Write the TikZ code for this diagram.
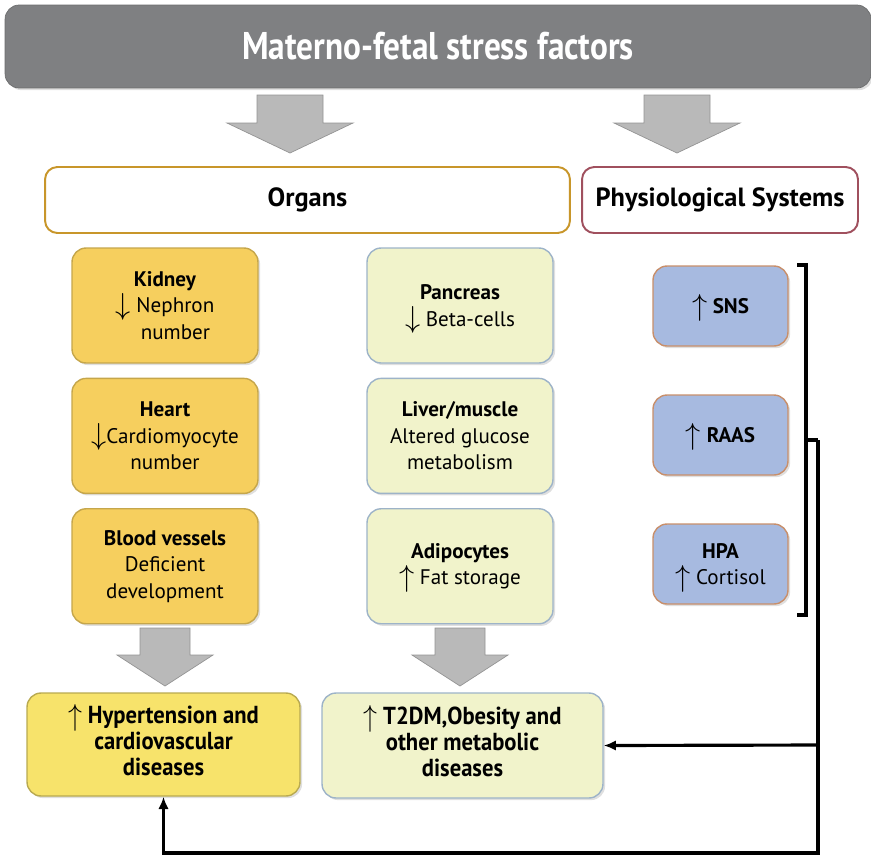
\documentclass[tikz,border=0pt]{standalone}
\usepackage{fontspec}
\setmainfont{PT Sans}
\usetikzlibrary{positioning, arrows.meta, shadows}
\definecolor{titleGray}{HTML}{7F8082}
\definecolor{arrowGray}{HTML}{B9B9B9}
\definecolor{organGold}{HTML}{C8962A}
\definecolor{physioRed}{HTML}{A0505E}
\definecolor{organOrange}{HTML}{F6CF5E}
\definecolor{metaPale}{HTML}{F1F3CB}
\definecolor{metaEdge}{HTML}{9DB3C8}
\definecolor{sysBlue}{HTML}{A7BAE0}
\definecolor{sysEdge}{HTML}{C88F6B}
\definecolor{cvdYellow}{HTML}{F7E36B}
\newcommand{\up}{\smash{\raisebox{-1pt}{\fontsize{17}{17}\selectfont$\uparrow$}}}
\newcommand{\down}{\smash{\raisebox{-1pt}{\fontsize{17}{17}\selectfont$\downarrow$}}}
\tikzstyle{softshadow} =[drop shadow={opacity=0.25, shadow xshift=1.2pt, shadow yshift=-1.2pt}]
\tikzstyle{organbox} =[draw=organOrange!80!black, fill=organOrange, rounded corners=8pt, line width=0.8pt, align=center, minimum width=3.72cm, minimum height=2.3cm, softshadow, font=\fontsize{12}{15}\selectfont]
\tikzstyle{metabox} =[draw=metaEdge, fill=metaPale, rounded corners=8pt, line width=0.8pt, align=center, minimum width=3.72cm, minimum height=2.3cm, softshadow, font=\fontsize{12}{15}\selectfont]
\tikzstyle{sysbox} =[draw=sysEdge, fill=sysBlue, rounded corners=8pt, line width=0.8pt, align=center, minimum width=2.7cm, minimum height=1.6cm, softshadow, font=\fontsize{12}{15}\selectfont]
\tikzstyle{headbox} =[fill=white, rounded corners=7pt, line width=1.1pt, minimum height=1.32cm, font=\fontsize{15}{17}\selectfont\bfseries]
\tikzstyle{outcome} =[rounded corners=8pt, line width=0.8pt, align=center, softshadow, font=\fontsize{14}{14.6}\selectfont\bfseries]

\begin{document}
\begin{tikzpicture}[x=0.02cm, y=-0.02cm]
\useasboundingbox (0,0) rectangle (871,856);

\node (stress) [fill=titleGray, draw=titleGray!85!black, rounded corners=8pt, minimum width=17.32cm, minimum height=1.66cm, text=white, softshadow] at (438,46.5)
	{\scalebox{0.86}[1]{\fontsize{22}{24}\selectfont\bfseries Materno-fetal stress factors}};

% big gray arrows under the title, small ones under the two columns
\foreach \cx/\top/\sw/\hw/\neck/\tip in {290/95/33/63/123/153, 677/95/33/63/123/153, 165/628/25/48/655/686, 460/628/25/48/655/686}
	\fill[arrowGray, draw=arrowGray!80!black, line width=0.4pt]
		(\cx-\sw,\top) -- (\cx+\sw,\top) -- (\cx+\sw,\neck) -- (\cx+\hw,\neck) -- (\cx,\tip)
		-- (\cx-\hw,\neck) -- (\cx-\sw,\neck) -- cycle;

\node (organs) [headbox, draw=organGold, minimum width=10.5cm] at (307.5,200) {Organs};
\node (physio) [headbox, draw=physioRed, minimum width=5.52cm] at (720,200) {Physiological Systems};

\node (kidney) [organbox] at (165,305.5) {\textbf{Kidney}\\\down\ Nephron\\\phantom{\down\ }number};
\node (heart) [organbox, below=0.28cm of kidney] {\textbf{Heart}\\\down Cardiomyocyte\\number};
\node (vessels) [organbox, below=0.28cm of heart] {\textbf{Blood vessels}\\Deficient\\development};

\node (pancreas) [metabox] at (460,305.5) {\textbf{Pancreas}\\\down\ Beta-cells};
\node (liver) [metabox, below=0.28cm of pancreas] {\textbf{Liver/muscle}\\Altered glucose\\metabolism};
\node (adipo) [metabox, below=0.28cm of liver] {\textbf{Adipocytes}\\\up\ Fat storage};

\node (sns) [sysbox] at (720.5,306) {\up\ \textbf{SNS}};
\node (raas) [sysbox] at (720.5,435) {\up\ \textbf{RAAS}};
\node (hpa) [sysbox] at (720.5,564) {\textbf{HPA}\\\up\ Cortisol};

\node (hyper) [outcome, draw=cvdYellow!75!black, fill=cvdYellow, minimum width=5.46cm, minimum height=2.06cm] at (163.5,744.5)
	{\scalebox{0.92}[1]{\begin{tabular}{@{}c@{}}\up\ Hypertension and\\cardiovascular\\diseases\end{tabular}}};
\node (t2dm) [outcome, draw=metaEdge, fill=metaPale, minimum width=5.62cm, minimum height=2.1cm] at (462.5,745.5)
	{\scalebox{0.92}[1]{\begin{tabular}{@{}c@{}}\up\ T2DM,Obesity and\\other metabolic\\diseases\end{tabular}}};

%bracket round the systems
\coordinate (brTop) at (797,265);
\coordinate (brBot) at (797,615);
\coordinate (hub) at (818,440);
\coordinate (tap) at (818,745);
\coordinate (corner) at (818,853);
\draw[line width=2pt] (brTop) -- (806,265) -- (806,615) -- (brBot);
\draw[line width=2pt] (806,440) -- (hub);

\draw[-{Latex[length=7pt, width=6pt]}, line width=1.8pt, black]
	(hub) -- (corner) -| (hyper.south);

\draw[-{Latex[length=7pt, width=6pt]}, line width=1.8pt, black]
	(tap) -- (t2dm.east);
\end{tikzpicture}
\end{document}
